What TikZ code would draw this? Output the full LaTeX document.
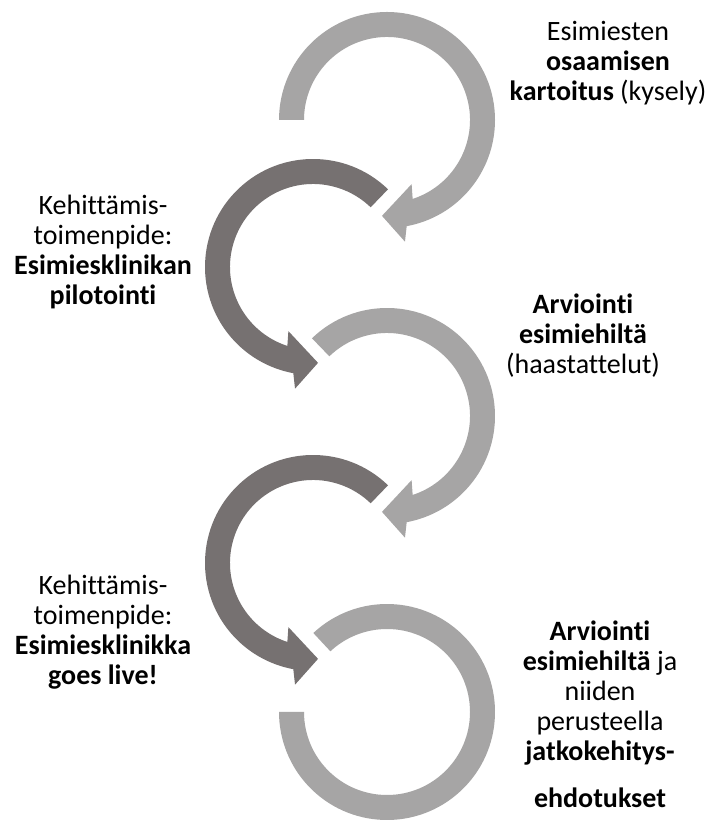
\documentclass[tikz,border=0pt]{standalone}
\usepackage{fontspec}
\setmainfont{Carlito}[Ligatures=NoCommon]
\definecolor{lightarc}{HTML}{A6A5A5}
\definecolor{darkarc}{HTML}{767171}
\begin{document}
\begin{tikzpicture}[x=1pt,y=1pt,
  lbl/.style={align=center,font=\fontsize{28}{30}\selectfont,inner sep=0pt,text=black}]
\useasboundingbox[fill=white] (0,0) rectangle (709,821);
% light arrow 1 (clockwise)
\begin{scope}[shift={(387,701)}]
\fill[lightarc] (180:108) arc[start angle=180,end angle=-79.5,radius=108]
  -- (-81.6:123) -- (-93:96) -- (-69:68.7) -- (-72:83)
  arc[start angle=-72,end angle=180,radius=83] -- cycle;
\end{scope}
% dark arrow 1 (counter-clockwise)
\begin{scope}[shift={(313,554)}]
\fill[darkarc] (46:108) arc[start angle=46,end angle=259.5,radius=108]
  -- (261.6:123) -- (273:96) -- (249:68.7) -- (252:83)
  arc[start angle=252,end angle=46,radius=83] -- cycle;
\end{scope}
% light arrow 2
\begin{scope}[shift={(387,405)}]
\fill[lightarc] (134:108) arc[start angle=134,end angle=-79.5,radius=108]
  -- (-81.6:123) -- (-93:96) -- (-69:68.7) -- (-72:83)
  arc[start angle=-72,end angle=134,radius=83] -- cycle;
\end{scope}
% dark arrow 2
\begin{scope}[shift={(313,258)}]
\fill[darkarc] (46:108) arc[start angle=46,end angle=259.5,radius=108]
  -- (261.6:123) -- (273:96) -- (249:68.7) -- (252:83)
  arc[start angle=252,end angle=46,radius=83] -- cycle;
\end{scope}
% light ring 3
\begin{scope}[shift={(387,109)}]
\fill[lightarc] (133:108) arc[start angle=133,end angle=-180,radius=108]
  -- (-180:83) arc[start angle=-180,end angle=133,radius=83] -- cycle;
\end{scope}
% texts
\node[lbl] (t1) at (608,758) {Esimiesten\\\textbf{osaamisen}\\\textbf{kartoitus} (kysely)};
\node[lbl] (t2) at (103,569) {Kehittämis-\\toimenpide:\\\textbf{Esimiesklinikan}\\\textbf{pilotointi}};
\node[lbl] (t3) at (583,485) {\textbf{Arviointi}\\\textbf{esimiehiltä}\\(haastattelut)};
\node[lbl] (t4) at (103,189) {Kehittämis-\\toimenpide:\\\textbf{Esimiesklinikka}\\\textbf{goes live!}};
\node[lbl] (t5) at (600,107) {\textbf{Arviointi}\\\textbf{esimiehiltä} ja\\niiden\\perusteella\\\textbf{jatkokehitys-}\\[17pt]\textbf{ehdotukset}};
\end{tikzpicture}
\end{document}
